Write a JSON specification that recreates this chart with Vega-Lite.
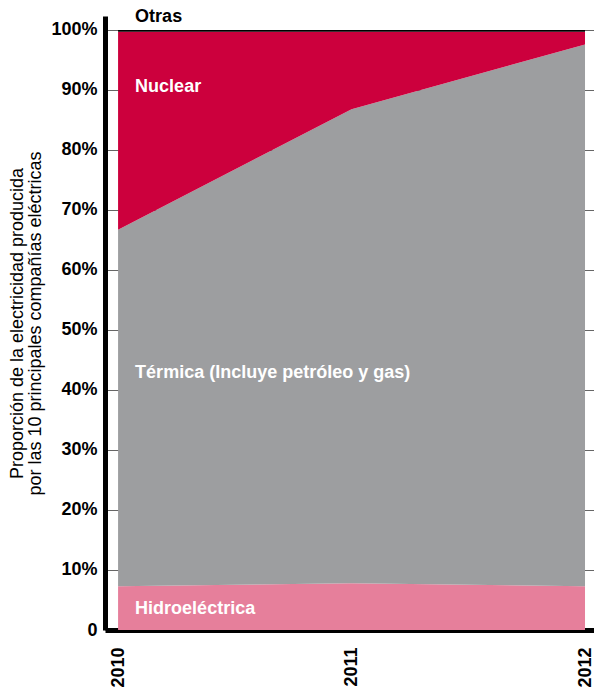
{
  "$schema": "https://vega.github.io/schema/vega-lite/v6.json",
  "width": 489,
  "height": 614,
  "autosize": "none",
  "padding": {"left": 105, "top": 16, "right": 0, "bottom": 61},
  "background": "white",
  "config": {"view": {"stroke": null}},
  "datasets": {
    "shares": [
      {"year": 2010, "source": "Hidroeléctrica", "ord": 1, "value": 7.3},
      {"year": 2011, "source": "Hidroeléctrica", "ord": 1, "value": 7.8},
      {"year": 2012, "source": "Hidroeléctrica", "ord": 1, "value": 7.3},
      {"year": 2010, "source": "Térmica", "ord": 2, "value": 59.4},
      {"year": 2011, "source": "Térmica", "ord": 2, "value": 79.0},
      {"year": 2012, "source": "Térmica", "ord": 2, "value": 90.3},
      {"year": 2010, "source": "Nuclear", "ord": 3, "value": 33.0},
      {"year": 2011, "source": "Nuclear", "ord": 3, "value": 12.9},
      {"year": 2012, "source": "Nuclear", "ord": 3, "value": 2.1},
      {"year": 2010, "source": "Otras", "ord": 4, "value": 0.3},
      {"year": 2011, "source": "Otras", "ord": 4, "value": 0.3},
      {"year": 2012, "source": "Otras", "ord": 4, "value": 0.3}
    ],
    "labels": [
      {"label": "Otras", "year": 2010.073, "value": 102.2},
      {"label": "Nuclear", "year": 2010.073, "value": 90.5},
      {"label": "Térmica (Incluye petróleo y gas)", "year": 2010.073, "value": 42.8},
      {"label": "Hidroeléctrica", "year": 2010.073, "value": 3.5}
    ]
  },
  "encoding": {
    "x": {
      "field": "year", "type": "quantitative",
      "scale": {"domain": [2009.944, 2012.0385], "nice": false, "zero": false},
      "axis": {
        "values": [2010, 2011, 2012], "labelExpr": "format(datum.value, 'd')", "title": null,
        "grid": false, "ticks": false, "labelAngle": -90, "labelPadding": 17,
        "labelOverlap": false, "labelBound": false, "labelFlush": false,
        "labelFont": "Liberation Sans", "labelFontWeight": "bold", "labelFontSize": 18,
        "labelColor": "black", "domainColor": "black", "domainWidth": 5
      }
    }
  },
  "layer": [
    {
      "data": {"name": "shares"},
      "mark": {"type": "area", "interpolate": "linear"},
      "encoding": {
        "y": {
          "field": "value", "type": "quantitative", "stack": "zero",
          "scale": {"domain": [0, 102.33], "nice": false},
          "axis": {
            "values": [0, 10, 20, 30, 40, 50, 60, 70, 80, 90, 100],
            "labelExpr": "datum.value == 0 ? '0' : datum.value + '%'",
            "grid": true, "gridColor": "#666666", "gridWidth": 1,
            "ticks": false, "labelPadding": 8, "labelOverlap": false,
            "labelFont": "Liberation Sans", "labelFontWeight": "bold", "labelFontSize": 18,
            "labelColor": "black", "domainColor": "black", "domainWidth": 5,
            "title": ["Proporción de la electricidad producida", "por las 10 principales compañías eléctricas"],
            "titleFont": "Liberation Sans", "titleFontWeight": "normal", "titleFontSize": 18,
            "titleLineHeight": 18, "titleColor": "black", "titlePadding": 6
          }
        },
        "color": {
          "field": "source", "type": "nominal",
          "scale": {"domain": ["Hidroeléctrica", "Térmica", "Nuclear", "Otras"],
                    "range": ["#e67f9b", "#9d9ea0", "#cc003d", "#000000"]},
          "legend": null
        },
        "order": {"field": "ord", "type": "quantitative"}
      }
    },
    {
      "data": {"name": "labels"},
      "transform": [{"filter": "datum.label != 'Otras'"}],
      "mark": {"type": "text", "align": "left", "baseline": "middle", "color": "white",
               "font": "Liberation Sans", "fontWeight": "bold", "fontSize": 18},
      "encoding": {
        "y": {"field": "value", "type": "quantitative", "stack": null},
        "text": {"field": "label"}
      }
    },
    {
      "data": {"name": "labels"},
      "transform": [{"filter": "datum.label == 'Otras'"}],
      "mark": {"type": "text", "align": "left", "baseline": "middle", "color": "black",
               "font": "Liberation Sans", "fontWeight": "bold", "fontSize": 18},
      "encoding": {
        "y": {"field": "value", "type": "quantitative", "stack": null},
        "text": {"field": "label"}
      }
    }
  ]
}
